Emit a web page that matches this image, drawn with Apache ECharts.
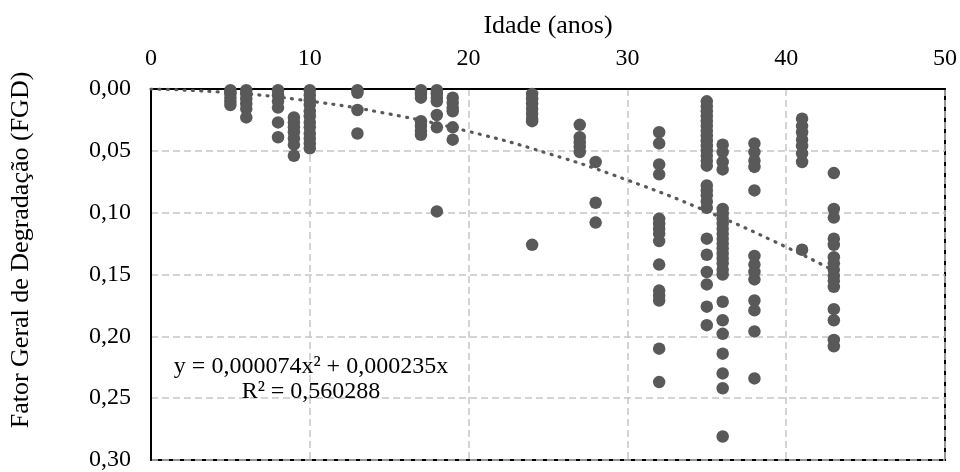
<!DOCTYPE html>
<html>
<head>
<meta charset="utf-8">
<script src="https://cdn.jsdelivr.net/npm/echarts@6/dist/echarts.min.js"></script>
<style>
html,body{margin:0;padding:0;background:#fff;}
#chart{width:960px;height:472px;}
</style>
</head>
<body>
<div id="chart"></div>
<script>
// idades (anos) e valores de FGD lidos em cada coluna
var ages = [5, 6, 8, 9, 10, 13, 17, 18, 19, 24, 27, 28, 32, 35, 36, 38, 41, 43];
var fgd = [
    [0.001, 0.004, 0.007, 0.010, 0.013],
    [0.001, 0.004, 0.008, 0.012, 0.016, 0.023],
    [0.001, 0.005, 0.010, 0.015, 0.027, 0.039],
    [0.023, 0.027, 0.031, 0.035, 0.040, 0.045, 0.054],
    [0.001, 0.005, 0.009, 0.013, 0.018, 0.022, 0.027, 0.031, 0.036, 0.040, 0.044, 0.048],
    [0.001, 0.003, 0.017, 0.036],
    [0.001, 0.004, 0.007, 0.026, 0.030, 0.034, 0.037],
    [0.001, 0.004, 0.007, 0.010, 0.021, 0.031, 0.099],
    [0.007, 0.011, 0.015, 0.018, 0.031, 0.041],
    [0.004, 0.008, 0.012, 0.016, 0.020, 0.024, 0.026, 0.126],
    [0.029, 0.039, 0.043, 0.047, 0.051],
    [0.059, 0.092, 0.108],
    [0.035, 0.044, 0.061, 0.069, 0.105, 0.109, 0.113, 0.117, 0.123, 0.142, 0.163, 0.167, 0.171, 0.210, 0.237],
    [0.010, 0.014, 0.018, 0.022, 0.026, 0.030, 0.034, 0.038, 0.042, 0.046, 0.050, 0.054, 0.058, 0.062,
     0.078, 0.082, 0.086, 0.091, 0.096, 0.121, 0.134, 0.148, 0.158, 0.176, 0.191],
    [0.045, 0.051, 0.059, 0.065, 0.097, 0.101, 0.105, 0.109, 0.113, 0.117, 0.121, 0.125, 0.129, 0.133,
     0.137, 0.141, 0.146, 0.150, 0.172, 0.187, 0.198, 0.214, 0.230, 0.242, 0.281],
    [0.044, 0.051, 0.058, 0.063, 0.082, 0.135, 0.142, 0.148, 0.154, 0.171, 0.179, 0.196, 0.234],
    [0.024, 0.030, 0.035, 0.041, 0.046, 0.052, 0.059, 0.130],
    [0.068, 0.097, 0.104, 0.121, 0.126, 0.136, 0.141, 0.146, 0.151, 0.155, 0.160, 0.178, 0.187, 0.203, 0.208]
];
var trendX = [0, 5, 10, 15, 20, 25, 30, 35, 40, 43];
var trendY = [0, 0.0030, 0.0098, 0.0202, 0.0343, 0.0521, 0.0737, 0.0989, 0.1278, 0.1469];
var eqText = ['y = 0,000074x² + 0,000235x', 'R² = 0,560288'];

var pts = [];
for (var i = 0; i < ages.length; i++) {
    for (var j = 0; j < fgd[i].length; j++) {
        pts.push([ages[i], fgd[i][j]]);
    }
}
var trend = [];
for (var k = 0; k < trendX.length; k++) { trend.push([trendX[k], trendY[k]]); }

var font = 'Liberation Serif';
var chart = echarts.init(document.getElementById('chart'));
var option = {
    animation: false,
    textStyle: {fontFamily: font},
    grid: {
        left: 151, top: 89, right: 15, bottom: 7,
        show: true, borderColor: '#000', borderWidth: 2,
        containLabel: false
    },
    xAxis: {
        type: 'value',
        position: 'top',
        min: 0, max: 50, interval: 10,
        axisLine: {show: true, onZero: false, lineStyle: {color: '#000', width: 2}},
        axisTick: {show: false},
        axisLabel: {color: '#000', fontSize: 24, fontFamily: font, margin: 18},
        splitLine: {show: true, lineStyle: {color: '#c6c6c6', width: 1.5, type: [7, 4]}}
    },
    yAxis: {
        type: 'value',
        inverse: true,
        min: 0, max: 0.3, interval: 0.05,
        axisLine: {show: true, onZero: false, lineStyle: {color: '#000', width: 2}},
        axisTick: {show: false},
        axisLabel: {
            color: '#000', fontSize: 24, fontFamily: font, margin: 20,
            formatter: function (v) { return v.toFixed(2).replace('.', ','); }
        },
        splitLine: {show: true, lineStyle: {color: '#c6c6c6', width: 1.5, type: [7, 4]}}
    },
    graphic: [
        {
            type: 'text', x: 548, y: 26,
            style: {text: 'Idade (anos)', fill: '#000', font: '26px "Liberation Serif"', align: 'center', verticalAlign: 'middle'}
        },
        {
            type: 'text', x: 21, y: 250, rotation: Math.PI / 2,
            style: {text: 'Fator Geral de Degradação (FGD)', fill: '#000', font: '26px "Liberation Serif"', align: 'center', verticalAlign: 'middle'}
        },
        {
            type: 'text', x: 311, y: 379, z: 10,
            style: {text: eqText.join('\n'), fill: '#000', font: '24px "Liberation Serif"', align: 'center', verticalAlign: 'middle', lineHeight: 25}
        }
    ],
    series: [
        {
            name: 'FGD',
            type: 'scatter',
            symbol: 'circle',
            symbolSize: 12.5,
            itemStyle: {color: '#595959', opacity: 1},
            data: pts,
            z: 2
        },
        {
            name: 'Tendência',
            type: 'line',
            smooth: true,
            showSymbol: false,
            lineStyle: {color: '#595959', width: 3.2, type: [1, 7.3], cap: 'round'},
            data: trend,
            z: 3
        }
    ]
};
chart.setOption(option);
</script>
</body>
</html>
